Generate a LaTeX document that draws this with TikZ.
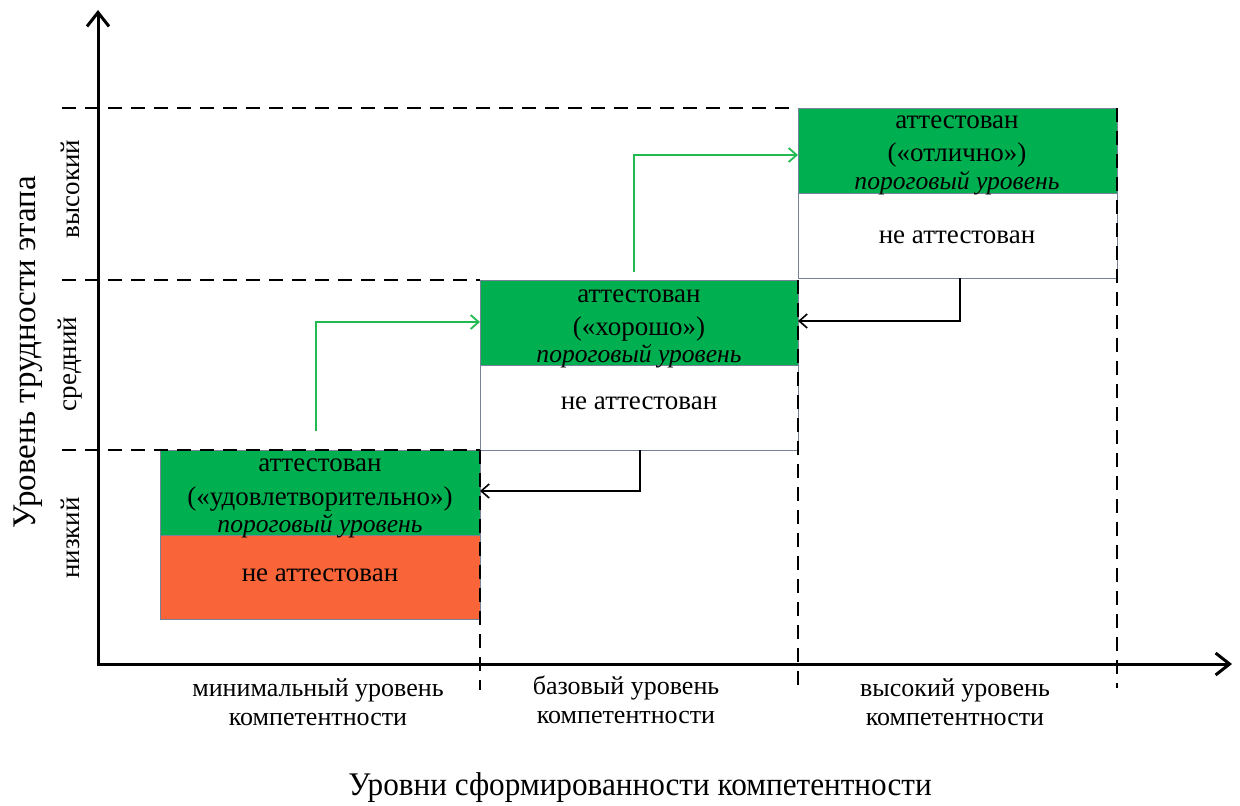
\documentclass[tikz,border=0pt]{standalone}
\usepackage{fontspec}
\setmainfont{Liberation Serif}
\usetikzlibrary{arrows.meta}
\definecolor{okgreen}{RGB}{0,176,80}
\definecolor{arrgreen}{RGB}{34,186,80}
\definecolor{failred}{RGB}{249,101,56}
\definecolor{boxline}{RGB}{120,130,150}
\tikzset{
  axis/.style={line width=1.5pt,-{Straight Barb[length=7pt,width=11pt,line width=1.5pt]}},
  guide/.style={line width=0.8pt,dash pattern=on 7pt off 4.5pt},
  okbox/.style={fill=okgreen,draw=boxline,line width=0.5pt},
  failbox/.style={draw=boxline,line width=0.5pt},
  txt/.style={font=\fontsize{13.5}{15}\selectfont,inner sep=0pt},
  itxt/.style={font=\fontsize{12.8}{15}\selectfont\itshape,inner sep=0pt},
  up/.style={draw=arrgreen,line width=0.9pt,-{Straight Barb[length=4pt,width=7pt,line width=0.9pt]}},
  back/.style={draw=black,line width=0.8pt,-{Straight Barb[length=4pt,width=7pt,line width=0.8pt]}},
  axlab/.style={inner sep=0pt},
  sidelab/.style={inner sep=0pt,rotate=90,font=\fontsize{13.5}{15}\selectfont},
  catlab/.style={inner sep=0pt,align=center,font=\fontsize{13}{14.5}\selectfont},
}
\begin{document}
\begin{tikzpicture}[x=0.5pt,y=-0.5pt]
\useasboundingbox (0,0) rectangle (1240,805);
% boxes
\path[okbox] (160,450) rectangle (480,535);
\path[okbox,fill=failred] (160,535) rectangle (480,619);
\path[okbox] (480,280) rectangle (798,365);
\path[failbox] (480,365) rectangle (798,450);
\path[okbox] (798,108) rectangle (1117,193);
\path[failbox] (798,193) rectangle (1117,278);
% guides
\coordinate (h1a) at (62,450); \coordinate (h1b) at (480,450);
\coordinate (h2a) at (62,280); \coordinate (h2b) at (480,280);
\coordinate (h3a) at (62,108); \coordinate (h3b) at (798,108);
\draw[guide] (h1a) -- (h1b);
\draw[guide] (h2a) -- (h2b);
\draw[guide] (h3a) -- (h3b);
\coordinate (v1a) at (480,450); \coordinate (v1b) at (480,690);
\coordinate (v2a) at (798,280); \coordinate (v2b) at (798,688);
\coordinate (v3a) at (1117,108); \coordinate (v3b) at (1117,688);
\draw[guide] (v1a) -- (v1b);
\draw[guide] (v2a) -- (v2b);
\draw[guide] (v3a) -- (v3b);
% axes
\coordinate (o) at (98,664);
\coordinate (ytip) at (98,10);
\coordinate (xtip) at (1232,664);
\draw[axis] (o) -- (ytip);
\draw[axis] ([xshift=-0.75pt]o) -- (xtip);
% box texts
\node[txt] (a1) at (320,465) {аттестован};
\node[txt] (b1) at (320,499) {(«удовлетворительно»)};
\node[itxt] (c1) at (320,526) {пороговый уровень};
\node[txt] (n1) at (320,575) {не аттестован};
\node[txt] (a2) at (639,296) {аттестован};
\node[txt] (b2) at (639,329) {(«хорошо»)};
\node[itxt] (c2) at (639,356) {пороговый уровень};
\node[txt] (n2) at (639,403) {не аттестован};
\node[txt] (a3) at (957,122) {аттестован};
\node[txt] (b3) at (957,155) {(«отлично»)};
\node[itxt] (c3) at (957,183) {пороговый уровень};
\node[txt] (n3) at (957,237) {не аттестован};
% arrows
\coordinate (g1s) at (316,431); \coordinate (g1e) at (480,322);
\draw[up] (g1s) |- (g1e);
\coordinate (g2s) at (634,272); \coordinate (g2e) at (798,155);
\draw[up] (g2s) |- (g2e);
\coordinate (k1s) at (640,450); \coordinate (k1e) at (480,491);
\draw[back] (k1s) |- (k1e);
\coordinate (k2s) at (960,278); \coordinate (k2e) at (798,321);
\draw[back] (k2s) |- (k2e);
% axis labels
\node[axlab,rotate=90,font=\fontsize{16.5}{18}\selectfont] (ylab) at (28,352) {Уровень трудности этапа};
\node[sidelab] (l1) at (70,538) {низкий};
\node[sidelab] (l2) at (70,364) {средний};
\node[sidelab] (l3) at (70,189) {высокий};
\node[catlab] (x1) at (318,702) {минимальный уровень\\компетентности};
\node[catlab] (x2) at (626,700) {базовый уровень\\компетентности};
\node[catlab] (x3) at (955,702) {высокий уровень\\компетентности};
\node[axlab,font=\fontsize{16.5}{18}\selectfont] (xlab) at (640,788) {\scalebox{0.946}[1]{Уровни сформированности компетентности}};
\end{tikzpicture}
\end{document}
